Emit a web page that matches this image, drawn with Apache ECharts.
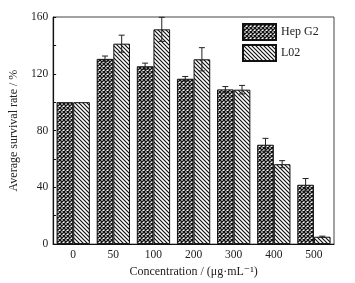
<!DOCTYPE html>
<html>
<head>
<meta charset="utf-8">
<script src="https://cdn.jsdelivr.net/npm/echarts@6/dist/echarts.min.js"></script>
<style>
  html, body { margin: 0; padding: 0; background: #fff; }
  #chart { width: 355px; height: 283px; }
</style>
</head>
<body>
<div id="chart"></div>
<script>
// 数据
const categories = ['0', '50', '100', '200', '300', '400', '500'];
const hepG2 = [100, 130.5, 125.3, 116.5, 109, 70, 41.8];
const hepG2Err = [0, 2, 2.2, 1.6, 2, 4.5, 4.4];
const l02 = [100, 141.2, 151.3, 130.2, 108.8, 56.3, 5.2];
const l02Err = [0, 6, 8.5, 8.2, 3, 2.5, 0.4];
const seriesNames = ['Hep G2', 'L02'];

const FONT = '"Liberation Serif", "DejaVu Serif", serif';

// 填充图案
function crossPattern() {
    const c = document.createElement('canvas');
    c.width = 4; c.height = 4;
    const ctx = c.getContext('2d');
    ctx.fillStyle = '#fff';
    ctx.fillRect(0, 0, 4, 4);
    ctx.strokeStyle = '#111';
    ctx.lineWidth = 1.4;
    ctx.beginPath();
    ctx.moveTo(-1, -1); ctx.lineTo(5, 5);
    ctx.moveTo(-1, 5); ctx.lineTo(5, -1);
    ctx.stroke();
    return c;
}

function diagPattern() {
    const c = document.createElement('canvas');
    c.width = 4; c.height = 4;
    const ctx = c.getContext('2d');
    ctx.fillStyle = '#fff';
    ctx.fillRect(0, 0, 4, 4);
    ctx.strokeStyle = '#111';
    ctx.lineWidth = 1.2;
    ctx.beginPath();
    ctx.moveTo(-1, -1); ctx.lineTo(5, 5);
    ctx.moveTo(-1, 3); ctx.lineTo(1, 5);
    ctx.moveTo(3, -1); ctx.lineTo(5, 1);
    ctx.stroke();
    return c;
}

const patterns = [
    { image: crossPattern(), repeat: 'repeat' },
    { image: diagPattern(), repeat: 'repeat' }
];

const CAT_GAP = 0.17;

// 误差线
function errorSeries(idx, values, errs) {
    return {
        type: 'custom',
        name: seriesNames[idx] + ' err',
        z: 5,
        silent: true,
        renderItem: function (params, api) {
            const i = api.value(0);
            const v = api.value(1);
            const e = api.value(2);
            if (!e) return null;
            const band = api.size([1, 0])[0];
            const bw = band * (1 - CAT_GAP) / 2;
            const off = idx === 0 ? -bw / 2 : bw / 2;
            const top = api.coord([i, v + e]);
            const bot = api.coord([i, v - e]);
            const x = top[0] + off;
            const hw = 3;
            const style = { stroke: '#222', lineWidth: 1 };
            return {
                type: 'group',
                children: [
                    { type: 'line', shape: { x1: x, y1: top[1], x2: x, y2: bot[1] }, style: style },
                    { type: 'line', shape: { x1: x - hw, y1: top[1], x2: x + hw, y2: top[1] }, style: style },
                    { type: 'line', shape: { x1: x - hw, y1: bot[1], x2: x + hw, y2: bot[1] }, style: style }
                ]
            };
        },
        data: values.map(function (v, i) { return [i, v, errs[i]]; })
    };
}

const chart = echarts.init(document.getElementById('chart'), null, { renderer: 'canvas' });

const option = {
    animation: false,
    backgroundColor: '#fff',
    textStyle: { fontFamily: FONT },
    grid: {
        left: 52, right: 21, top: 17, bottom: 38,
        show: true, borderColor: '#444', borderWidth: 1
    },
    legend: {
        data: seriesNames,
        orient: 'vertical',
        icon: 'rect',
        left: 242, top: 23,
        padding: 0,
        itemWidth: 33, itemHeight: 16, itemGap: 3,
        textStyle: { fontFamily: FONT, fontSize: 12, color: '#222' }
    },
    xAxis: {
        type: 'category',
        data: categories,
        name: 'Concentration / (μg·mL⁻¹)',
        nameLocation: 'middle',
        nameGap: 21,
        nameTextStyle: { fontFamily: FONT, fontSize: 12, color: '#222' },
        axisLine: { lineStyle: { color: '#111', width: 1.2 } },
        axisTick: { show: false },
        axisLabel: { fontFamily: FONT, fontSize: 11.5, color: '#222', margin: 5 }
    },
    yAxis: {
        type: 'value',
        min: 0, max: 160, interval: 40,
        name: 'Average survival rate / %',
        nameLocation: 'middle',
        nameGap: 21,
        nameTextStyle: { fontFamily: FONT, fontSize: 12, color: '#222' },
        axisLine: { show: true, lineStyle: { color: '#111', width: 1.2 } },
        axisTick: { show: true, inside: true, length: 3, lineStyle: { color: '#111' } },
        minorTick: { show: true, splitNumber: 2, length: 3, lineStyle: { color: '#111' } },
        splitLine: { show: false },
        axisLabel: { fontFamily: FONT, fontSize: 11.5, color: '#222', margin: 5 }
    },
    series: [
        {
            name: seriesNames[0], type: 'bar', data: hepG2,
            barGap: '0%', barCategoryGap: (CAT_GAP * 100) + '%',
            itemStyle: { color: patterns[0], borderColor: '#111', borderWidth: 1 }
        },
        {
            name: seriesNames[1], type: 'bar', data: l02,
            barGap: '0%', barCategoryGap: (CAT_GAP * 100) + '%',
            itemStyle: { color: patterns[1], borderColor: '#111', borderWidth: 1 }
        },
        errorSeries(0, hepG2, hepG2Err),
        errorSeries(1, l02, l02Err)
    ]
};

chart.setOption(option);
</script>
</body>
</html>
